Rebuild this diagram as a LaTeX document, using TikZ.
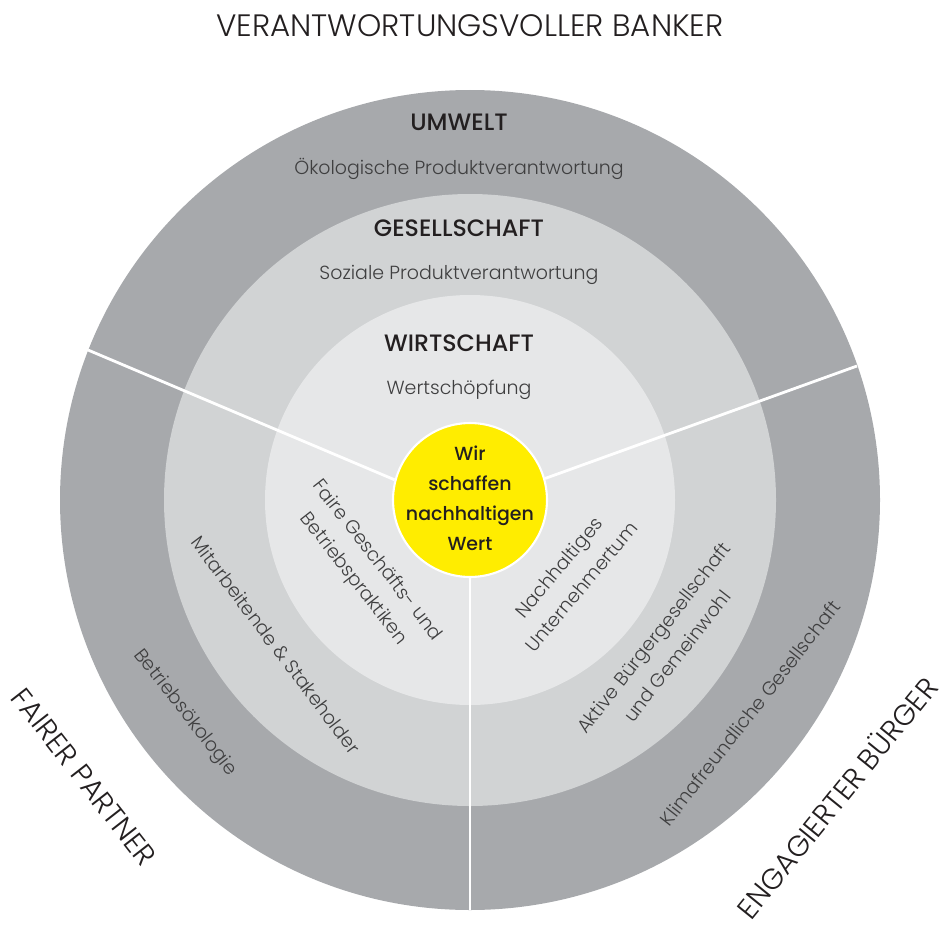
\documentclass[tikz,border=0pt]{standalone}
\usepackage{fontspec}
\usetikzlibrary{positioning}
\setmainfont{Poppins}
\IfFontExistsTF{Poppins Light}{\newfontfamily\thinfont{Poppins Light}}{\newfontfamily\thinfont{Poppins}}
\IfFontExistsTF{Poppins Medium}{\newfontfamily\midfont{Poppins Medium}}{\newfontfamily\midfont{Poppins}}
\definecolor{ringouter}{HTML}{A7A9AC}
\definecolor{ringmiddle}{HTML}{D1D3D4}
\definecolor{ringinner}{HTML}{E6E7E8}
\definecolor{coreyellow}{HTML}{FFED00}
\definecolor{inkdark}{HTML}{231F20}
\definecolor{inkgray}{HTML}{3F3F40}
\tikzset{
  bigcap/.style={font=\thinfont\fontsize{16.5}{20}\selectfont, text=inkdark},
  ringhead/.style={font=\midfont\fontsize{13.5}{16}\selectfont, text=inkdark},
  ringsub/.style={font=\thinfont\fontsize{10.8}{13}\selectfont, text=inkgray},
  ringtext/.style={font=\thinfont\fontsize{10.8}{17}\selectfont, text=inkgray, align=center},
  core/.style={circle, fill=coreyellow, draw=white, line width=1.2pt, minimum size=3.08cm,
    inner sep=0pt},
  corelabel/.style={align=center, text=inkdark, font=\midfont\fontsize{10.8}{17}\selectfont},
  sector line/.style={draw=white, line width=1.6pt}
}

\begin{document}
\begin{tikzpicture}[x=0.02cm, y=-0.02cm, node distance=0.94cm, on grid]
  \useasboundingbox (0,0) rectangle (946,926);
  \coordinate (c) at (470,500);

  % rings
  \fill[ringouter] (c) circle (410);
  \fill[ringmiddle] (c) circle (306);
  \fill[ringinner] (c) circle (205);

  \node[core] (core) at (c) {};
  \node[corelabel] (wir) at (470,498) {Wir\\schaffen\\nachhaltigen\\Wert};

  % borders between the three sectors
  \coordinate (lft) at (88,350);
  \coordinate (rgt) at (857,366);
  \coordinate (btm) at (470,910);
  \draw[sector line] (core.165) -- (lft);
  \draw[sector line] (core.16) -- (rgt);
  \draw[sector line] (core.south) -- (btm);

  % top
  \node[bigcap, font=\thinfont\fontsize{17.6}{20}\selectfont] (banker) at (470,26) {VERANTWORTUNGSVOLLER BANKER};
  \node[ringhead] (umwelt) at (459,122) {UMWELT};
  \node[ringsub] (oeko) [below=of umwelt] {Ökologische Produktverantwortung};
  \node[ringhead] (gesell) at (459,228) {GESELLSCHAFT};
  \node[ringsub] (sozial) [below=of gesell] {Soziale Produktverantwortung};
  \node[ringhead] (wirt) at (459,343) {WIRTSCHAFT};
  \node[ringsub] (wert) [below=of wirt] {Wertschöpfung};

  % left sector
  \node[ringtext, rotate=-52] (faire) at (365,570) {Faire Geschäfts- und\\Betriebspraktiken};
  \node[ringtext, rotate=-53] (mitarb) at (276,645) {Mitarbeitende \& Stakeholder};
  \node[ringtext, rotate=-52] (oekol) at (185,713) {Betriebsökologie};
  \node[bigcap, rotate=-52] (fair) at (84,777) {FAIRER PARTNER};

  % right sector
  \node[ringtext, rotate=50] (nachh) at (570,577) {Nachhaltiges\\Unternehmertum};
  \node[ringtext, rotate=52] (aktiv) at (665,647) {Aktive Bürgergesellschaft\\und Gemeinwohl};
  \node[ringtext, rotate=52] (klima) at (750,713) {Klimafreundliche Gesellschaft};
  \node[bigcap, rotate=51] (engag) at (836,797) {ENGAGIERTER BÜRGER};
\end{tikzpicture}
\end{document}
